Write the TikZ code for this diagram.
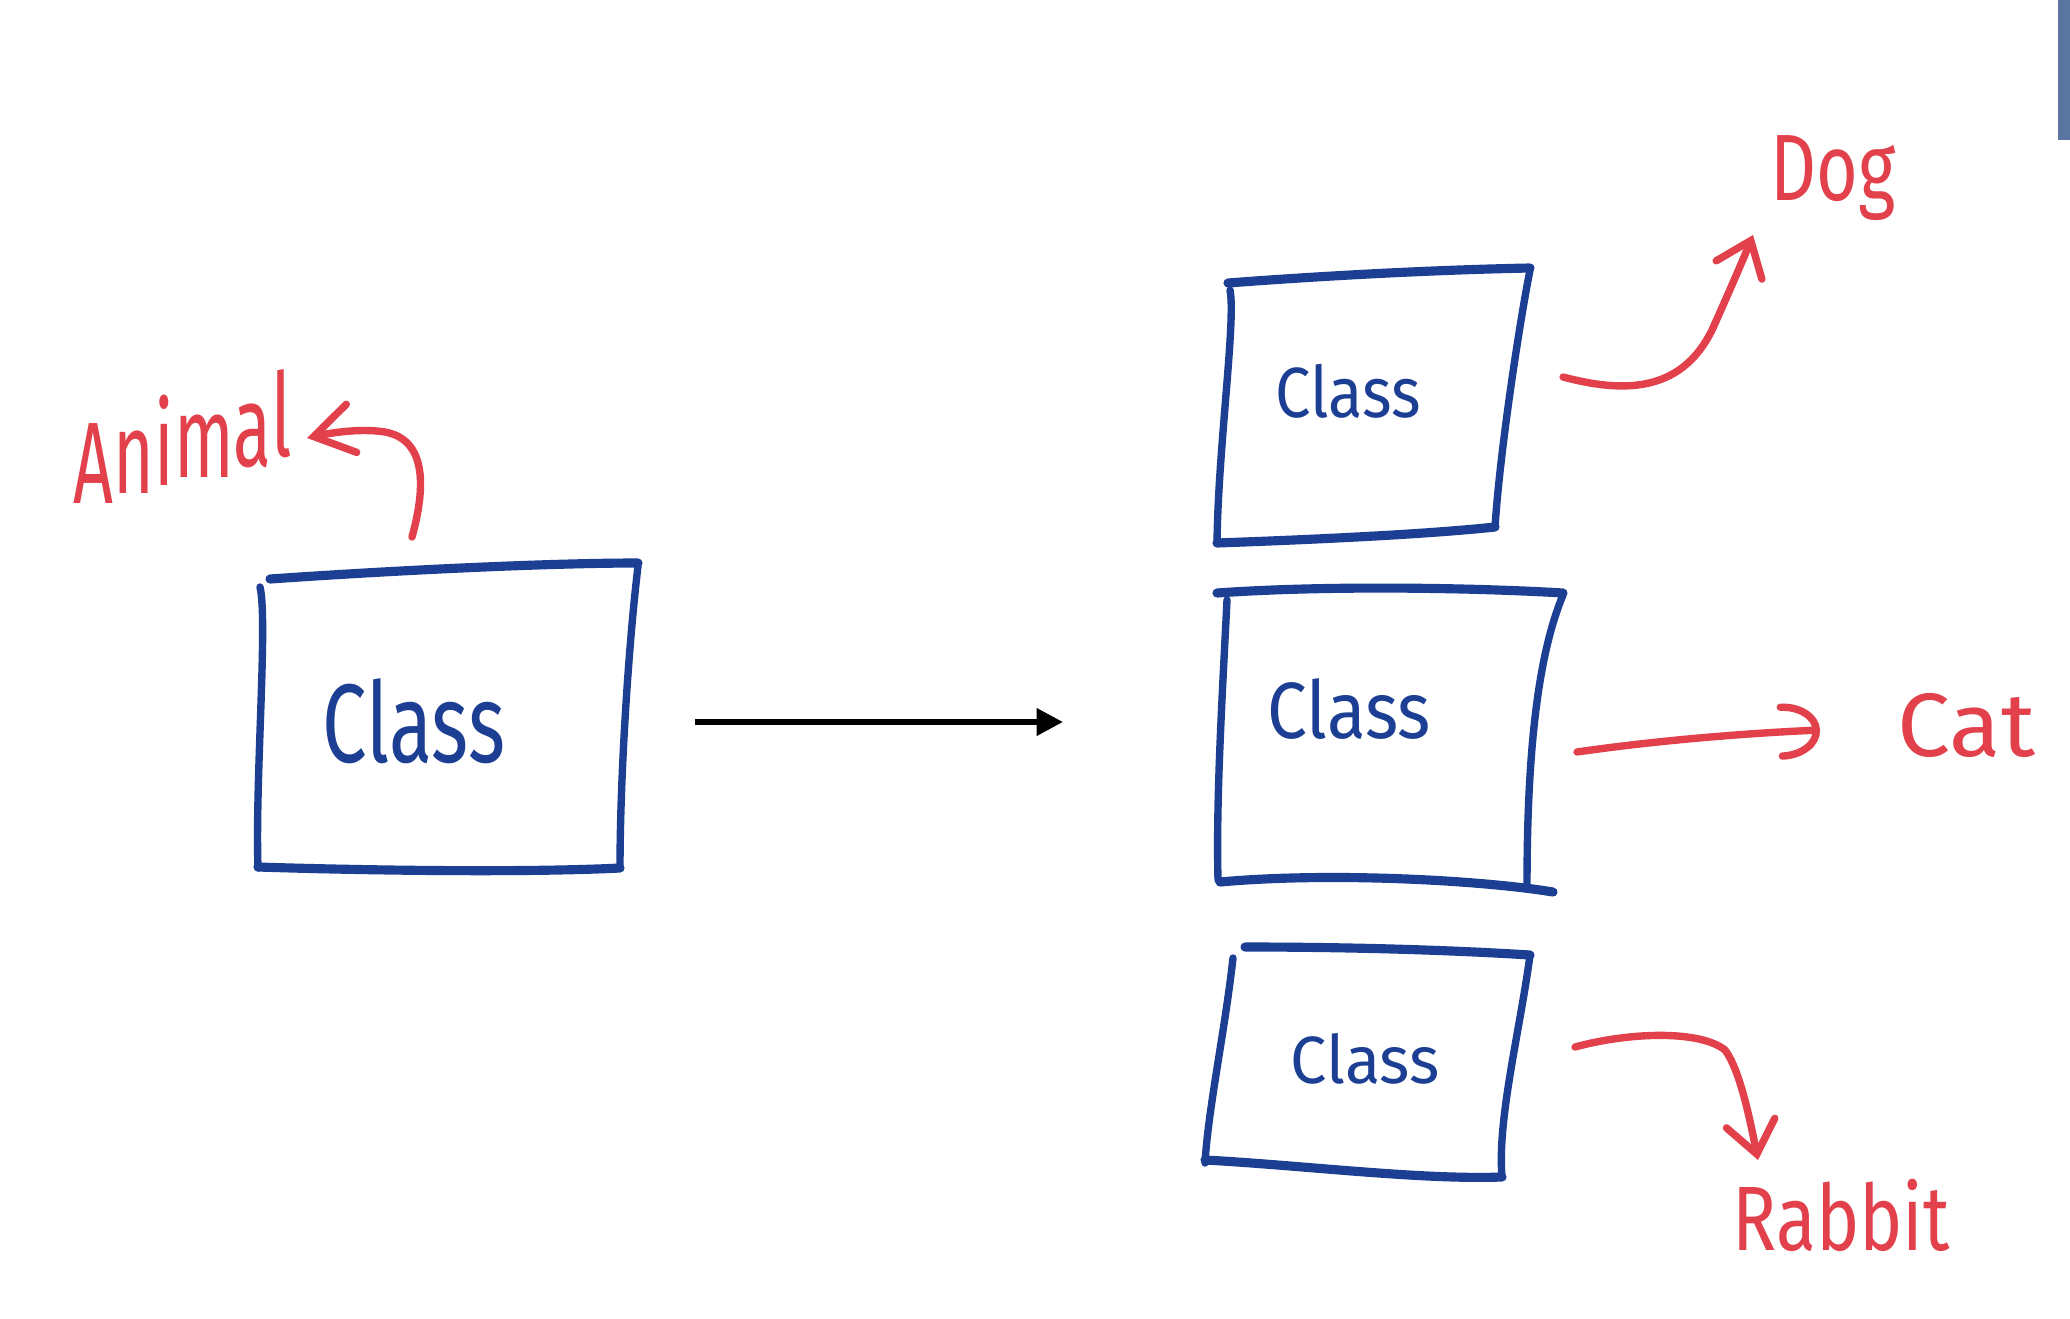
\documentclass[tikz,border=0pt]{standalone}
\usepackage{fontspec}
\usepackage{graphicx}
\setmainfont{Fira Sans}
\usetikzlibrary{arrows.meta}
\definecolor{hblue}{HTML}{1C3F94}
\definecolor{hred}{HTML}{E2404A}
\definecolor{barblue}{HTML}{5A76A0}
\newcommand{\hwtext}[3]{\fontsize{#1}{#1}\selectfont\scalebox{#2}[1]{#3}}
\tikzset{
  boxline/.style={draw=hblue, line width=2.1pt, line cap=round, line join=round},
  boxtop/.style={boxline, line width=2.6pt},
  redline/.style={draw=hred, line width=2.1pt, line cap=round, line join=round},
  classtext/.style={text=hblue, inner sep=0pt, anchor=base west},
  redtext/.style={text=hred, inner sep=0pt, anchor=base west},
  barbtip/.style={-{Straight Barb[length=#1pt, width=14pt, line cap=round]}},
}
\begin{document}
\begin{tikzpicture}[x=0.01cm,y=-0.01cm]
\useasboundingbox (0,0) rectangle (2070,1318);
\fill[white] (0,0) rectangle (2070,1318);
\fill[barblue] (2058,0) rectangle (2070,140);

% left box
\draw[boxtop] (270,579) .. controls (400,570) and (550,563) .. (638,563);
\draw[boxline] (638,566) .. controls (628,650) and (620,780) .. (620,868);
\draw[boxtop] (620,868) .. controls (520,873) and (350,870) .. (258,867);
\draw[boxline] (260,587) .. controls (268,620) and (255,780) .. (258,868);
\node[classtext] (c0) at (322,762) {\hwtext{31.8}{0.71}{Class}};

% top right box
\draw[boxtop] (1228,283) .. controls (1320,276) and (1430,270) .. (1530,268);
\draw[boxline] (1530,270) .. controls (1520,320) and (1500,450) .. (1495,527);
\draw[boxtop] (1495,527) .. controls (1420,535) and (1300,540) .. (1217,543);
\draw[boxline] (1230,290) .. controls (1236,320) and (1218,450) .. (1217,543);
\node[classtext] (c1) at (1275,417) {\hwtext{20.2}{0.89}{Class}};

% middle box
\draw[boxtop] (1217,593) .. controls (1330,585) and (1480,588) .. (1563,593);
\draw[boxline] (1563,595) .. controls (1540,650) and (1527,740) .. (1527,885);
\draw[boxtop] (1553,892) .. controls (1480,880) and (1330,872) .. (1220,882);
\draw[boxline] (1227,600) .. controls (1222,700) and (1216,800) .. (1218,880);
\node[classtext] (c2) at (1267,738) {\hwtext{22.7}{0.89}{Class}};

% bottom box
\draw[boxtop] (1245,947) .. controls (1350,947) and (1450,950) .. (1530,955);
\draw[boxline] (1530,955) .. controls (1520,1030) and (1497,1120) .. (1502,1177);
\draw[boxtop] (1502,1177) .. controls (1420,1180) and (1300,1165) .. (1205,1160);
\draw[boxline] (1233,958) .. controls (1225,1030) and (1208,1110) .. (1205,1163);
\node[classtext] (c3) at (1290,1083) {\hwtext{19}{0.97}{Class}};

% main arrow
\coordinate (mainfrom) at (695,722);
\coordinate (mainto) at (1063,722);
\draw[line width=1.7pt, -{Triangle[length=7.5pt,width=7.5pt]}] (mainfrom) -- (mainto);

% labels
\node[redtext] (animal) at (73,503) {\hwtext{33}{0.6}{A\raisebox{2.6pt}{n}\raisebox{5pt}{i}\raisebox{7.3pt}{m}\raisebox{10.5pt}{a}\raisebox{13.2pt}{l}}};
\node[redtext] (dog) at (1770,200) {\hwtext{26.8}{0.76}{Dog}};
\node[redtext] (cat) at (1897,756) {\hwtext{25.6}{1.05}{Cat}};
\node[redtext] (rabbit) at (1732,1250) {\hwtext{26}{0.8}{Rabbit}};

% red arrows
\coordinate (afrom) at (412,537);
\coordinate (ato) at (307,438);
\draw[redline, barbtip=11] (afrom) .. controls (425,490) and (428,440) .. (385,432) .. controls (360,428) and (330,433) .. (ato);

\coordinate (dfrom) at (1563,377);
\coordinate (dto) at (1753,235);
\draw[redline, barbtip=9] (dfrom) .. controls (1620,392) and (1680,395) .. (1712,330) .. controls (1730,290) and (1745,255) .. (dto);

\coordinate (cfrom) at (1577,752);
\coordinate (cto) at (1820,730);
\draw[redline, -{Arc Barb[length=11pt, width=16pt, line cap=round]}] (cfrom) .. controls (1660,740) and (1750,733) .. (cto);

\coordinate (rfrom) at (1575,1047);
\coordinate (rto) at (1758,1160);
\draw[redline, barbtip=9] (rfrom) .. controls (1630,1032) and (1700,1030) .. (1725,1050) .. controls (1740,1070) and (1750,1120) .. (rto);
\end{tikzpicture}
\end{document}
